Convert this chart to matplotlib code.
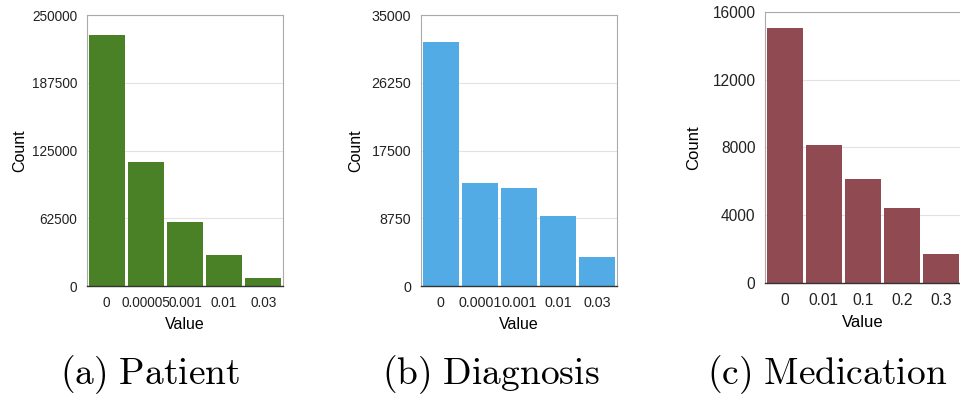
import matplotlib
matplotlib.use("Agg")
import matplotlib.pyplot as plt

plt.rcParams['font.family'] = ['Liberation Sans', 'DejaVu Sans']
plt.rcParams['mathtext.fontset'] = 'cm'

# data
patient_labels = ['0', '0.00005', '0.001', '0.01', '0.03']
patient_counts = [231500, 114400, 59300, 28600, 7700]

diagnosis_labels = ['0', '0.0001', '0.001', '0.01', '0.03']
diagnosis_counts = [31500, 13300, 12600, 9040, 3750]

medication_labels = ['0', '0.01', '0.1', '0.2', '0.3']
medication_counts = [15020, 8150, 6160, 4440, 1730]

# labels, counts, colour, y ticks, axes rect, caption, caption x, tick size, label size, ylabel pad
panels = [
    (patient_labels, patient_counts, '#4a8026', [0, 62500, 125000, 187500, 250000],
     [0.0906, 0.2832, 0.204, 0.679], r'$\mathrm{(a)\ Patient}$', 0.156, 9.8, 11.5, 3),
    (diagnosis_labels, diagnosis_counts, '#53abe6', [0, 8750, 17500, 26250, 35000],
     [0.4385, 0.2832, 0.204, 0.679], r'$\mathrm{(b)\ Diagnosis}$', 0.511, 10.3, 11.5, 6),
    (medication_labels, medication_counts, '#8f4a52', [0, 4000, 8000, 12000, 16000],
     [0.797, 0.29, 0.204, 0.6807], r'$\mathrm{(c)\ Medication}$', 0.862, 11.2, 12, 8),
]

fig = plt.figure(figsize=(9.6, 3.99), dpi=100)

for labels, counts, color, yticks, rect, caption, cx, tsize, lsize, ypad in panels:
    ax = fig.add_axes(rect)
    x = range(len(labels))
    ax.bar(x, counts, width=0.92, color=color, zorder=2)
    ax.set_xlim(-0.5, len(labels) - 0.5)
    ax.set_ylim(yticks[0], yticks[-1])
    ax.set_yticks(yticks)
    ax.set_yticklabels([str(v) for v in yticks])
    ax.set_xticks(list(x))
    ax.set_xticklabels(labels)
    ax.tick_params(length=0, labelsize=tsize, colors='#222222', pad=7)
    ax.yaxis.grid(True, color='#e2e2e2', linewidth=0.8, zorder=0)
    for side in ['top', 'right', 'left']:
        ax.spines[side].set_color('#aaaaaa')
        ax.spines[side].set_linewidth(0.8)
    ax.spines['bottom'].set_color('#333333')
    ax.spines['bottom'].set_linewidth(1.0)
    ax.set_xlabel('Value', fontsize=lsize, labelpad=5)
    ax.set_ylabel('Count', fontsize=lsize, labelpad=ypad)
    fig.text(cx, 0.038, caption, fontsize=27, ha='center', va='baseline')

fig.savefig('out.png', dpi=100)
